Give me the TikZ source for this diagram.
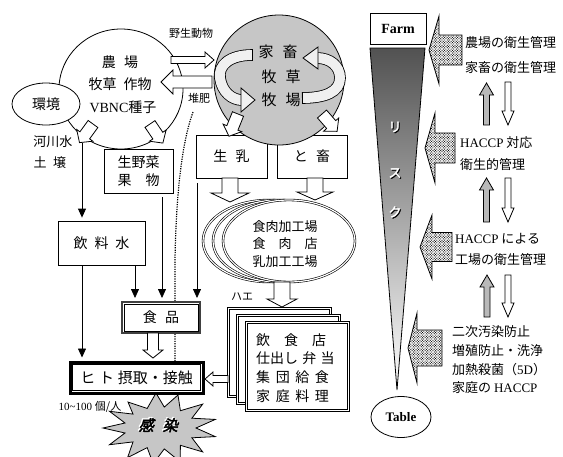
\documentclass[tikz,border=0pt]{standalone}
\usepackage{fontspec}
\setmainfont{Liberation Serif}
\newfontfamily\jp{Noto Sans CJK JP}
\newfontfamily\jpbi{Noto Sans CJK JP}[FakeBold=3,FakeSlant=0.25]
\newfontfamily\jpb{Noto Sans CJK JP}[FakeBold=2.5]
\usetikzlibrary{shapes.geometric,arrows.meta,patterns}
\pgfdeclarepatternformonly{densedots}{\pgfqpoint{-1pt}{-1pt}}{\pgfqpoint{3pt}{3pt}}{\pgfqpoint{2.6pt}{2.6pt}}%
{\pgfpathcircle{\pgfqpoint{0pt}{0pt}}{0.6pt}\pgfpathcircle{\pgfqpoint{1.3pt}{1.3pt}}{0.6pt}\pgfusepath{fill}}
\newcommand\fs[1]{\fontsize{#1}{#1}\selectfont}
\newcommand\fsl[2]{\fontsize{#1}{#2}\selectfont}
\newcommand\lat{\rmfamily}
% block arrow: [opts]{tail x,y}{angle}{length}{shaft half}{head half}{head length}
\newcommand\barrow[7][]{%
  \draw[line width=0.8pt,fill=white,line join=miter,#1,shift={(#2)},rotate=#3]
   (0,-#5) -- ({#4-#7},-#5) -- ({#4-#7},-#6) -- (#4,0) -- ({#4-#7},#6) -- ({#4-#7},#5) -- (0,#5) -- cycle;}
\begin{document}
\begin{tikzpicture}[x=1pt,y=-1pt,
  txt/.style={font=\jp\fs{13}, inner sep=0pt, align=center},
  box/.style={draw, line width=0.8pt, fill=white, inner sep=0pt, font=\jp\fs{14}, align=center},
  arr/.style={line width=0.8pt, -{Triangle[length=9pt,width=8pt]}, shorten >=3pt},
  dotarrow/.style={pattern=densedots},
  dbl/.style={draw, double, double distance=1.2pt, line width=0.6pt, fill=white}]
\useasboundingbox (0,0) rectangle (563,456);

% ---------- dotted curve (compost) ----------
\draw[line width=1.2pt, dash pattern=on 1.2pt off 1.2pt] (193,112) .. controls (181,145) and (176,200) .. (175,260) -- (175,362);

% ---------- farm circle & environment ----------
\node[ellipse, draw, line width=0.8pt, minimum width=124pt, minimum height=120pt, inner sep=0pt] (farm) at (121,89) {};
\node[ellipse, draw, line width=0.8pt, fill=white, minimum width=68pt, minimum height=42pt, inner sep=0pt, font=\jp\fs{14}] (env) at (46,104) {環境};
\node[txt, font=\jp\fs{14}] (f1) at (120,62) {農\hspace{0.6em}場};
\node[txt, font=\jp\fs{14}] (f2) at (120,84) {牧草\hspace{0.5em}作物};
\node[txt, font=\jp\fs{14}] (f3) at (123,107) {{\lat VBNC}種子};

% ---------- boxes ----------
\node[box, minimum width=71pt, minimum height=43pt] (milk) at (231.5,156.5) {生\hspace{0.6em}乳};
\node[box, minimum width=70pt, minimum height=43pt] (slau) at (312,156.5) {と\hspace{0.6em}畜};

% ---------- livestock circle ----------
\node[circle, draw, line width=0.8pt, fill=gray!45, minimum size=130pt, inner sep=0pt] (stock) at (279,80) {};
\node[txt, font=\jp\fs{15}] (s1) at (278,52) {家\hspace{0.6em}畜};
\node[txt, font=\jp\fs{15}] (s2) at (281,77) {牧\hspace{0.6em}草};
\node[txt, font=\jp\fs{15}] (s3) at (281,100) {牧\hspace{0.6em}場};
% curved cycle arrows
\draw[double=gray!12, double distance=10pt, line width=0.8pt] (252,55) .. controls (230,55) and (218,65) .. (220,78) .. controls (222,92) and (232,100) .. (242,100);
\draw[line width=0.8pt, fill=gray!12] (241,88) -- (255,100) -- (241,112) -- cycle;
\draw[line width=0.8pt] (252,49.4) -- (252,60.6);
\draw[double=gray!12, double distance=10pt, line width=0.8pt] (302,98) .. controls (325,98) and (340,92) .. (340,78) .. controls (340,66) and (330,58) .. (317,58);
\draw[line width=0.8pt, fill=gray!12] (318,47) -- (303,58) -- (318,69) -- cycle;
\draw[line width=0.8pt] (302,92.4) -- (302,103.6);

% ---------- block arrows (left part) ----------
\barrow{93,124}{-126}{23}{6}{10}{9}
\barrow{150,124}{-56}{23}{6}{10}{9}
\barrow{171,60}{0}{43}{3.5}{8}{9}
\barrow{212,82}{180}{51}{6}{12}{12}
\barrow{238,114}{-112}{24}{6}{10}{9}
\barrow{322,114}{-49}{23}{6}{10}{9}
\barrow{230,178}{-90}{24}{8}{19}{9}
\barrow{315,178}{-90}{22}{8}{18}{8}

\node[txt, font=\jp\fs{11}] (wild) at (191,33) {野生動物};
\node[txt, font=\jp\fs{11}] (comp) at (199,98) {堆肥};
\node[txt] (river) at (53,142) {河川水};
\node[txt] (soil) at (50,163) {土\hspace{0.5em}壌};

% ---------- vegetables / water ----------
\node[box, minimum width=69pt, minimum height=44pt, font=\jp\fsl{14}{18}] (veg) at (138.5,171) {生野菜\\果\hspace{1em}物};
\node[box, minimum width=87pt, minimum height=44pt] (drink) at (101.5,243) {飲\hspace{0.5em}料\hspace{0.5em}水};

% ---------- processing ellipses ----------
\node[ellipse, dbl, minimum width=132pt, minimum height=82pt, inner sep=0pt] (proc3) at (269,241) {};
\node[ellipse, dbl, minimum width=132pt, minimum height=82pt, inner sep=0pt] (proc2) at (279,241) {};
\node[ellipse, dbl, minimum width=132pt, minimum height=82pt, inner sep=0pt] (proc1) at (289,241) {};
\node[txt] (p1) at (285,227) {食肉加工場};
\node[txt] (p2) at (285,244) {食\hspace{1em}肉\hspace{1em}店};
\node[txt] (p3) at (285,262) {乳加工工場};
\barrow{282,282}{-90}{25}{8}{15}{8}
\node[txt, font=\jp\fs{11}] (fly) at (242,297) {ハエ};

% ---------- restaurants ----------
\node[dbl, line width=0.7pt, minimum width=102pt, minimum height=88pt, anchor=north west] (rest3) at (228,308) {};
\node[dbl, line width=0.7pt, minimum width=102pt, minimum height=88pt, anchor=north west] (rest2) at (237,315) {};
\node[dbl, line width=0.7pt, minimum width=102pt, minimum height=88pt, anchor=north west] (rest1) at (246,322) {};
\node[txt, font=\jp\fsl{14}{18.7}, align=left, anchor=west] (resttxt) at (256,368)
  {飲\hspace{1em}食\hspace{1em}店\\仕出し\hspace{0.3em}弁\hspace{0.3em}当\\集\hspace{0.4em}団\hspace{0.4em}給\hspace{0.4em}食\\家\hspace{0.4em}庭\hspace{0.4em}料\hspace{0.4em}理};

% ---------- food & human ----------
\node[draw=black!75, line width=2pt, fill=white, minimum width=78pt, minimum height=31pt, inner sep=0pt, font=\jp\fs{14}] (food) at (161,317.5) {食\hspace{0.6em}品};
\draw[line width=0.8pt] ([shift={(3,3)}]food.north west) rectangle ([shift={(-3,-3)}]food.south east);

\coordinate (c1) at (82,143);
\coordinate (c3) at (135,270);
\coordinate (c4) at (162,197);
\coordinate (c5) at (197,183);

% star
\draw[fill=gray!45, line width=0.8pt] (103,428) -- (125,433) -- (109.5,444.7) -- (133,441.9) -- (127.6,457.6) -- (147.2,447.6) -- (153.2,463.7) -- (164.3,448.9) -- (180.2,461.7) -- (180.4,445.3) -- (202.7,451.9) -- (191.9,437.8) -- (215.3,436.6) -- (196,428) -- (215.3,419.4) -- (191.9,418.2) -- (202.7,404.1) -- (180.4,410.7) -- (178,395) -- (164.3,407.1) -- (156,393) -- (147.2,408.4) -- (128,402) -- (133,414.1) -- (109.5,411.3) -- (125,423) -- cycle;
\node[font=\jpbi\fs{15}, text=white, inner sep=0pt] (kansenS) at (157,424) {感\hspace{0.6em}染};
\node[font=\jpbi\fs{15}, text=black, inner sep=0pt] (kansen) at (158.2,425.2) {感\hspace{0.6em}染};

\node[draw, line width=3pt, fill=white, minimum width=133pt, minimum height=31pt, inner sep=0pt, font=\jp\fs{15}] (hito) at (136.5,377.5) {ヒ\hspace{0.25em}ト\hspace{0.25em}摂取・接触};
\draw[line width=1.6pt] ([shift={(4,4)}]hito.north west) rectangle ([shift={(-4,-4)}]hito.south east);
\node[txt, font=\jp\fs{11}] (dose) at (90,407) {{\lat 10\textasciitilde100 }個/人};

\draw[arr] (c1) -- (c1 |- drink.north);
\draw[arr] (drink.south -| c1) -- (c1 |- hito.north);
\draw[arr] (drink.south -| c3) -- (c3 |- food.north);
\draw[arr] (c4) -- (c4 |- food.north);
\draw[arr] (c5) -- (c5 |- food.north);
\barrow{153,333}{-90}{25}{5.5}{10}{8}
\barrow{228,379}{180}{23}{3.5}{7}{8}

% ---------- right column ----------
\node[draw, line width=0.8pt, minimum width=56pt, minimum height=31pt, inner sep=0pt, font=\bfseries\fs{14}] (farmbox) at (398,29) {Farm};
\draw[line width=0.8pt, top color=black!68, bottom color=white] (370,48) -- (425,48) -- (397,390) -- cycle;
\node[ellipse, draw, line width=0.8pt, minimum width=60pt, minimum height=41pt, inner sep=0pt, font=\bfseries\fs{13}] (table) at (401,417) {Table};
\foreach \t/\yy [count=\i] in {リ/127, ス/173, ク/212}{
  \node[font=\jpb\fs{13}, text=black, inner sep=0pt] (rk\i) at (396,\yy+1) {\t};
  \node[font=\jpb\fs{13}, text=white, inner sep=0pt] (rw\i) at (395,\yy) {\t};
}

\barrow[dotarrow]{462,50}{180}{33}{15}{34}{10}
\barrow[dotarrow]{455,148}{180}{30}{15}{35}{10}
\barrow[dotarrow]{452,247}{180}{32}{14.5}{32}{12}
\barrow[dotarrow]{442,348}{180}{34}{18}{35}{9}

\node[txt, anchor=west] (r1a) at (465,43) {農場の衛生管理};
\node[txt, anchor=west] (r1b) at (465,68) {家畜の衛生管理};
\node[txt, anchor=west] (r2a) at (460,143) {{\lat HACCP} 対応};
\node[txt, anchor=west] (r2b) at (460,165) {衛生的管理};
\node[txt, anchor=west] (r3a) at (455,239) {{\lat HACCP} による};
\node[txt, anchor=west] (r3b) at (455,260) {工場の衛生管理};
\node[txt, anchor=west] (r4a) at (452,332) {二次汚染防止};
\node[txt, anchor=west] (r4b) at (452,351) {増殖防止・洗浄};
\node[txt, anchor=west] (r4c) at (452,370) {加熱殺菌（{\lat 5D}）};
\node[txt, anchor=west] (r4d) at (452,388) {家庭の {\lat HACCP}};

\barrow[fill=gray!55]{486.5,125}{90}{42}{3}{7}{12}
\barrow{508,82}{-90}{43}{3}{6}{14}
\barrow[fill=gray!55]{486.5,222}{90}{44}{3}{7}{12}
\barrow{508,178}{-90}{44}{3}{6}{14}
\barrow[fill=gray!55]{487,317}{90}{42}{3}{7}{12}
\barrow{508,275}{-90}{42}{3}{6}{14}
\end{tikzpicture}
\end{document}
